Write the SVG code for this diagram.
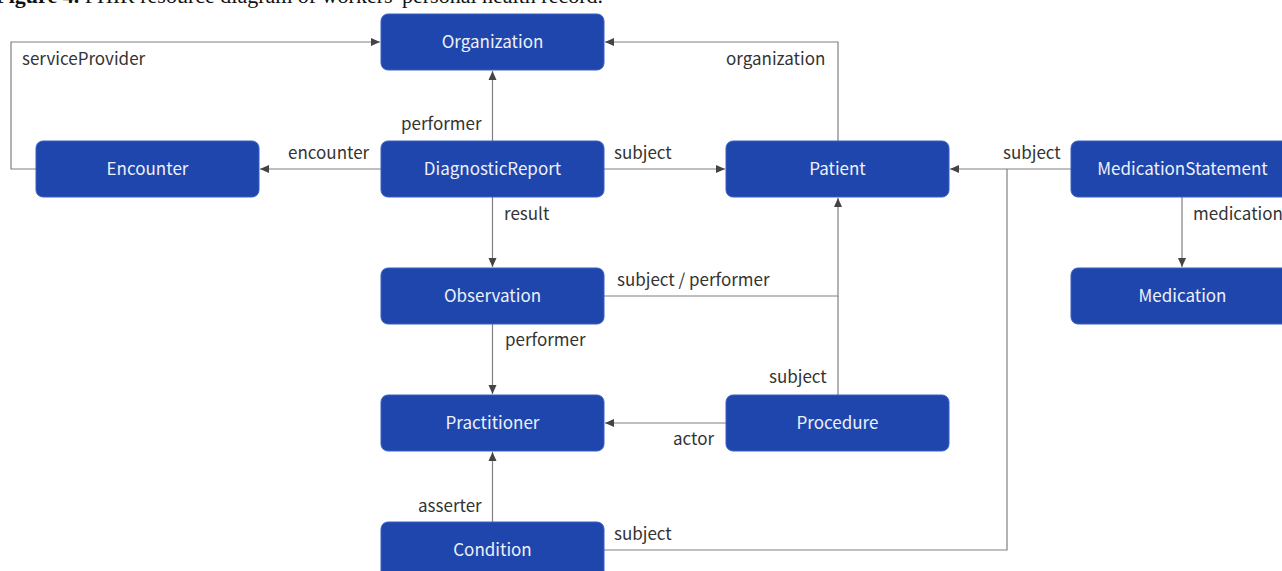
<svg xmlns="http://www.w3.org/2000/svg" width="1282" height="571" viewBox="0 0 1282 571">
<style>
.node rect{fill:#1f46ad;stroke:#3a5fc0;stroke-width:1}
.node text{fill:#eef1f8;font-family:"Noto Sans CJK KR","Noto Sans",sans-serif;font-size:17px;text-anchor:middle}
.lbl{fill:#333;font-family:"Noto Sans CJK KR","Noto Sans",sans-serif;font-size:17px}
.edge{fill:none;stroke:#808080;stroke-width:1.2}
.cap{font-family:"Liberation Serif",serif;font-size:22px;fill:#111}
</style>
<defs>
<marker id="ah" markerUnits="userSpaceOnUse" markerWidth="10" markerHeight="10" refX="9" refY="5" orient="auto">
<path d="M0,1 L9,5 L0,9 Z" fill="#444"/>
</marker>
</defs>
<rect width="1282" height="571" fill="#fff"/>
<text class="cap" x="603" y="3" text-anchor="end"><tspan font-weight="bold">Figure 4.</tspan> FHIR resource diagram of workers' personal health record.</text>
<g id="connectors">
<path class="edge" d="M36,169 H11 V42 H380" marker-end="url(#ah)"/>
<path class="edge" d="M492.5,141 V71" marker-end="url(#ah)"/>
<path class="edge" d="M381,169 H260" marker-end="url(#ah)"/>
<path class="edge" d="M604,169 H725" marker-end="url(#ah)"/>
<path class="edge" d="M492.5,197 V267" marker-end="url(#ah)"/>
<path class="edge" d="M838,141 V42 H605" marker-end="url(#ah)"/>
<path class="edge" d="M1071,169 H950" marker-end="url(#ah)"/>
<path class="edge" d="M1182,197 V267" marker-end="url(#ah)"/>
<path class="edge" d="M604,296 H838 V198" marker-end="url(#ah)"/>
<path class="edge" d="M492.5,324 V394" marker-end="url(#ah)"/>
<path class="edge" d="M838,395 V296"/>
<path class="edge" d="M726,423 H605" marker-end="url(#ah)"/>
<path class="edge" d="M492.5,522 V452" marker-end="url(#ah)"/>
<path class="edge" d="M604,550 H1007 V169"/>
<text class="lbl" x="22" y="65">serviceProvider</text>
<text class="lbl" x="401" y="130">performer</text>
<text class="lbl" x="288" y="159">encounter</text>
<text class="lbl" x="614" y="159">subject</text>
<text class="lbl" x="504" y="220">result</text>
<text class="lbl" x="726" y="65">organization</text>
<text class="lbl" x="1003" y="159">subject</text>
<text class="lbl" x="1193" y="220">medication</text>
<text class="lbl" x="617" y="286">subject / performer</text>
<text class="lbl" x="505" y="346">performer</text>
<text class="lbl" x="769" y="383">subject</text>
<text class="lbl" x="673" y="445">actor</text>
<text class="lbl" x="418" y="512">asserter</text>
<text class="lbl" x="614" y="540">subject</text>
</g>
<g id="organization" class="node"><rect x="381" y="14" width="223" height="56" rx="7"/><text x="492.5" y="48">Organization</text></g>
<g id="encounter" class="node"><rect x="36" y="141" width="223" height="56" rx="7"/><text x="147.5" y="175">Encounter</text></g>
<g id="diagnosticreport" class="node"><rect x="381" y="141" width="223" height="56" rx="7"/><text x="492.5" y="175">DiagnosticReport</text></g>
<g id="patient" class="node"><rect x="726" y="141" width="223" height="56" rx="7"/><text x="837.5" y="175">Patient</text></g>
<g id="medicationstatement" class="node"><rect x="1071" y="141" width="223" height="56" rx="7"/><text x="1182.5" y="175">MedicationStatement</text></g>
<g id="medication" class="node"><rect x="1071" y="268" width="223" height="56" rx="7"/><text x="1182.5" y="302">Medication</text></g>
<g id="observation" class="node"><rect x="381" y="268" width="223" height="56" rx="7"/><text x="492.5" y="302">Observation</text></g>
<g id="practitioner" class="node"><rect x="381" y="395" width="223" height="56" rx="7"/><text x="492.5" y="429">Practitioner</text></g>
<g id="procedure" class="node"><rect x="726" y="395" width="223" height="56" rx="7"/><text x="837.5" y="429">Procedure</text></g>
<g id="condition" class="node"><rect x="381" y="522" width="223" height="56" rx="7"/><text x="492.5" y="556">Condition</text></g>
</svg>
